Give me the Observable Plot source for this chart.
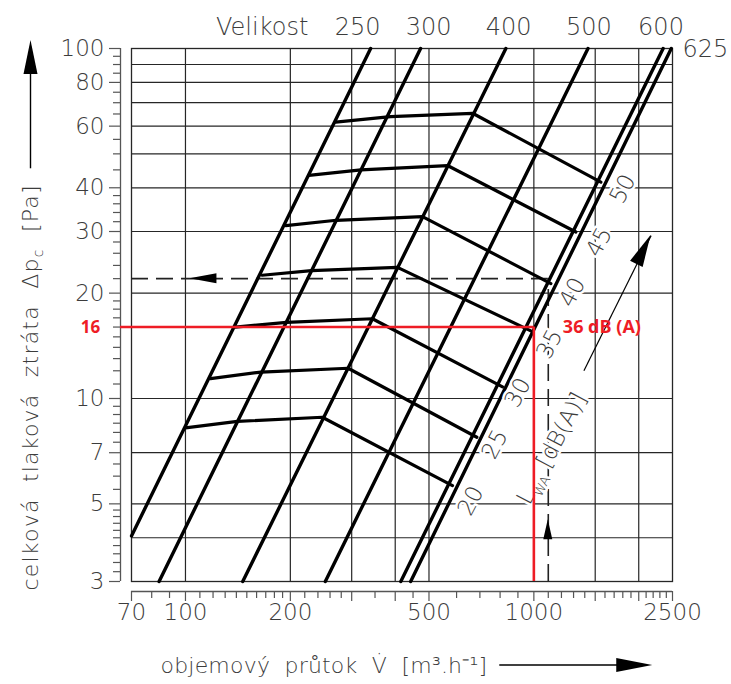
<!DOCTYPE html>
<html><head><meta charset="utf-8">
<script src="https://cdn.jsdelivr.net/npm/d3@7"></script>
<script src="https://cdn.jsdelivr.net/npm/@observablehq/plot@0.6"></script>
<style>body{margin:0;background:#fff;} #chart svg{display:block;}</style>
</head><body><div id="chart"></div>
<script>
// ---------------- data ----------------
const sizes = ["250", "300", "400", "500", "600", "625"];
const sizeLineV = [[70, 340], [84, 473], [146, 831], [252, 1430], [415, 2350], [443, 2480]];
const sizeLineP = [[4.05, 100], [3, 100], [3, 100], [3, 100], [3, 100], [3, 100]];

const noiseLevels = [20, 25, 30, 35, 40, 45, 50];
const noiseV = [
  [100, 141, 247, 584],
  [118, 165, 293, 686],
  [139, 195, 344, 813],
  [166, 230, 406, 980],
  [194, 271, 479, 1119],
  [226, 319, 565, 1320],
  [270, 388, 667, 1557]
];
const noiseP = [
  [8.24, 8.6, 8.84, 5.64],
  [11.4, 11.9, 12.2, 7.75],
  [16.0, 16.5, 16.9, 10.8],
  [22.5, 23.2, 23.7, 15.6],
  [31.2, 32.3, 33.1, 21.3],
  [43.4, 45.0, 46.3, 29.9],
  [61.6, 63.9, 65.3, 41.5]
];
const noiseLabelV = [659, 773, 900, 1110, 1290, 1540, 1800];
const noiseLabelP = [5.1, 7.4, 10.4, 14.3, 20.1, 28.0, 39.7];

const sizeLabelText = ["Velikost", "250", "300", "400", "500", "600"];
const sizeLabelV = [166, 312, 499, 847, 1439, 2317];

const xTicksLabeled = [70, 100, 200, 500, 1000, 2500];
const xTicksMajor = [70, 100, 200, 300, 400, 500, 1000, 1500, 2000, 2500];
const xTicksMinor = [80, 90, 110, 120, 130, 140, 150, 160, 170, 180, 190, 220, 240, 260, 280, 350, 450,
  600, 700, 800, 900, 1100, 1200, 1300, 1400, 1600, 1700, 1800, 1900, 2100, 2200, 2300, 2400];
const yTicksLabeled = [3, 5, 7, 10, 20, 30, 40, 60, 80, 100];
const yTicksMinor = [3.2, 3.4, 3.6, 3.8, 4, 4.2, 4.4, 4.6, 4.8, 5.5, 6, 6.5, 7.5, 8, 8.5, 9, 9.5,
  11, 12, 13, 14, 15, 16, 17, 18, 19, 22, 24, 26, 28, 32, 34, 36, 38, 45, 50, 55, 65, 70, 75, 85, 90, 95];
const xGrid = [100, 200, 300, 400, 500, 1000, 1500, 2000];
const yGrid = [4, 5, 7, 10, 20, 30, 40, 50, 60, 70, 80, 90];

// reading example (dashed) and marked point (red)
const dashedV = 1100, dashedP = 22;
const dashedArrowLeftV = 103, dashedArrowUpP = 4.5;
const exampleV = 1000, exampleP = 16, exampleLabel = "36 dB (A)", exampleTick = "16";
const lwArrowV = [1392, 2170], lwArrowP = [12.0, 29.2];
const lwLabelV = 1126, lwLabelP = 7.2;
const lwLabel = "LWA [dB(A)]";

const xTitle = "objemový  průtok  V̇  [m³.h⁻¹]";
const yTitle = "celková  tlaková  ztráta  ∆pc  [Pa]";

// ---------------- tables ----------------
const sizeTable = sizes.flatMap((s, i) => sizeLineV[i].map((v, j) => ({size: s, V: v, p: sizeLineP[i][j]})));
const noiseTable = noiseLevels.flatMap((l, i) => noiseV[i].map((v, j) => ({level: l, V: v, p: noiseP[i][j]})));
const noiseLabelTable = noiseLevels.map((l, i) => ({t: String(l), V: noiseLabelV[i], p: noiseLabelP[i]}));
const sizeLabelTable = sizeLabelText.map((t, i) => ({t, V: sizeLabelV[i]}));

const FONT = "DejaVu Sans";
const INK = "#3c3c3c";
const RED = "#ee1c25";
const GRID = "#262626";

const chart = Plot.plot({
  width: 731, height: 684,
  marginLeft: 131, marginRight: 59, marginTop: 48, marginBottom: 103,
  x: {type: "log", domain: [70, 2500], axis: null},
  y: {type: "log", domain: [3, 100], axis: null},
  style: {fontFamily: FONT, background: "#fff", color: "#000", overflow: "visible"},
  marks: [
    Plot.ruleX(xGrid, {stroke: GRID, strokeWidth: 1.2}),
    Plot.ruleY(yGrid, {stroke: GRID, strokeWidth: 1.2}),
    Plot.frame({stroke: GRID, strokeWidth: 1.3}),
    // left ruler
    Plot.ruleX([70], {y1: 3, y2: 100, dx: -11, stroke: "#555", strokeWidth: 1.3}),
    Plot.axisY(yTicksMinor, {anchor: "left", tickSize: 7, dx: -11, tickFormat: () => "", label: null, stroke: "#555", strokeWidth: 1.2}),
    Plot.axisY(yTicksLabeled, {anchor: "left", tickSize: 11, tickPadding: 5, dx: -11, fontSize: 23, fontWeight: 300, fill: INK, stroke: "#555", strokeWidth: 1.2, tickFormat: d => String(d), label: null}),
    // bottom ruler
    Plot.ruleY([3], {x1: 70, x2: 2500, dy: 10, stroke: "#555", strokeWidth: 1.3}),
    Plot.axisX(xTicksMinor, {anchor: "bottom", tickSize: 7, dy: 10, tickFormat: () => "", label: null, stroke: "#555", strokeWidth: 1.2}),
    Plot.axisX(xTicksMajor, {anchor: "bottom", tickSize: 10, dy: 10, tickFormat: () => "", label: null, stroke: "#555", strokeWidth: 1.2}),
    Plot.text(xTicksLabeled, {x: d => d, frameAnchor: "bottom", lineAnchor: "top", dy: 22, text: d => String(d), fontSize: 23, fontWeight: 300, fill: INK}),
    // dashed reading example
    Plot.ruleY([dashedP], {x1: 70, x2: dashedV, stroke: "#222", strokeWidth: 1.6, strokeDasharray: "17,8"}),
    Plot.ruleX([dashedV], {y1: 3, y2: dashedP, stroke: "#222", strokeWidth: 1.6, strokeDasharray: "17,8"}),
    // size lines
    Plot.line(sizeTable, {x: "V", y: "p", z: "size", stroke: "#000", strokeWidth: 3.4}),
    // noise lines
    Plot.line(noiseTable, {x: "V", y: "p", z: "level", stroke: "#000", strokeWidth: 3.2, strokeLinejoin: "miter"}),
    // Lw arrow shaft
    Plot.link([0], {x1: () => lwArrowV[0], y1: () => lwArrowP[0], x2: () => lwArrowV[1], y2: () => lwArrowP[1], stroke: "#000", strokeWidth: 1.2}),
    // noise labels
    Plot.text(noiseLabelTable, {x: "V", y: "p", text: "t", rotate: -62, fontSize: 23, fontWeight: 300, fill: INK, stroke: "#fff", strokeWidth: 5}),
    Plot.text([lwLabel], {x: () => lwLabelV, y: () => lwLabelP, text: d => d, rotate: -62, fontSize: 23, fontWeight: 300, fill: INK, stroke: "#fff", strokeWidth: 5}),
    // top size labels
    Plot.text(sizeLabelTable, {x: "V", y: () => 100, text: "t", dy: -21, fontSize: 24, fontWeight: 300, fill: INK}),
    Plot.text(["625"], {x: () => 2500, y: () => 100, text: d => d, dx: 10, dy: 1, textAnchor: "start", fontSize: 24, fontWeight: 300, fill: INK}),
    // red marked point
    Plot.ruleY([exampleP], {x1: 70, x2: exampleV, insetLeft: -11, stroke: RED, strokeWidth: 2.6}),
    Plot.ruleX([exampleV], {y1: 3, y2: exampleP, stroke: RED, strokeWidth: 2.6}),
    Plot.text([exampleTick], {x: () => 70, y: () => exampleP, text: d => d, dx: -41, fontSize: 17, fontWeight: "bold", fontFamily: "Open Sans", fill: RED}),
    Plot.text([exampleLabel], {x: () => exampleV, y: () => exampleP, text: d => d, dx: 29, textAnchor: "start", fontSize: 18, fontWeight: "bold", fontFamily: "Open Sans", fill: RED}),
    // axis titles
    Plot.text([yTitle], {frameAnchor: "bottom-left", text: d => d, rotate: -90, textAnchor: "start", dx: -94, dy: 9, fontSize: 22, fontWeight: 300, fill: INK}),
    Plot.text([xTitle], {frameAnchor: "bottom-left", text: d => d, textAnchor: "start", dx: 29, dy: 91, fontSize: 22, fontWeight: 300, fill: INK})
  ]
});
document.getElementById("chart").appendChild(chart);

const sx = chart.scale("x"), sy = chart.scale("y");
const svg = d3.select(chart);
const findText = s => svg.selectAll("text").filter(function () { return this.textContent === s; });

// subscripts
const lw = findText(lwLabel);
lw.text(null).style("white-space", "pre");
lw.append("tspan").text("L");
lw.append("tspan").attr("font-size", 13).attr("dy", 6).text("WA");
lw.append("tspan").attr("dy", -6).text(" [dB(A)]");
const yt = findText(yTitle);
yt.text(null).style("white-space", "pre").attr("letter-spacing", 1.2);
yt.append("tspan").text("celková  tlaková  ztráta  ∆p");
yt.append("tspan").attr("font-size", 14).attr("dy", 5).text("c");
yt.append("tspan").attr("dy", -5).text("  [Pa]");
findText(xTitle).style("white-space", "pre").attr("letter-spacing", 0.2);

// arrow heads
const deco = svg.append("g");
function head(tx, ty, ang, len, half) {
  const ux = Math.cos(ang), uy = Math.sin(ang);
  const bx = tx - ux * len, by = ty - uy * len;
  const px = -uy, py = ux;
  deco.append("path").attr("d", `M${tx},${ty}L${bx + px * half},${by + py * half}L${bx - px * half},${by - py * half}Z`).attr("fill", "#000");
}
head(sx.apply(dashedArrowLeftV), sy.apply(dashedP), Math.PI, 27, 5);
head(sx.apply(dashedV), sy.apply(dashedArrowUpP), -Math.PI / 2, 20, 4.5);
{
  const x0 = sx.apply(lwArrowV[0]), y0 = sy.apply(lwArrowP[0]);
  const x1 = sx.apply(lwArrowV[1]), y1 = sy.apply(lwArrowP[1]);
  head(x1, y1, Math.atan2(y1 - y0, x1 - x0), 32, 7);
}
// title arrows
{
  const cr = chart.getBoundingClientRect();
  const ytb = yt.node().getBoundingClientRect();
  const cx = ytb.left - cr.left + ytb.width / 2 - 1;
  const top = ytb.top - cr.top;
  deco.append("line").attr("x1", cx).attr("x2", cx).attr("y1", top - 16).attr("y2", 70).attr("stroke", "#000").attr("stroke-width", 1.4);
  head(cx, 40, -Math.PI / 2, 34, 7);
  const xtb = findText(xTitle).node().getBoundingClientRect();
  const right = xtb.right - cr.left;
  const cy = xtb.top - cr.top + xtb.height * 0.5;
  deco.append("line").attr("x1", right + 12).attr("x2", right + 140).attr("y1", cy).attr("y2", cy).attr("stroke", "#000").attr("stroke-width", 1.4);
  head(right + 165, cy, 0, 36, 7);
}
</script></body></html>
